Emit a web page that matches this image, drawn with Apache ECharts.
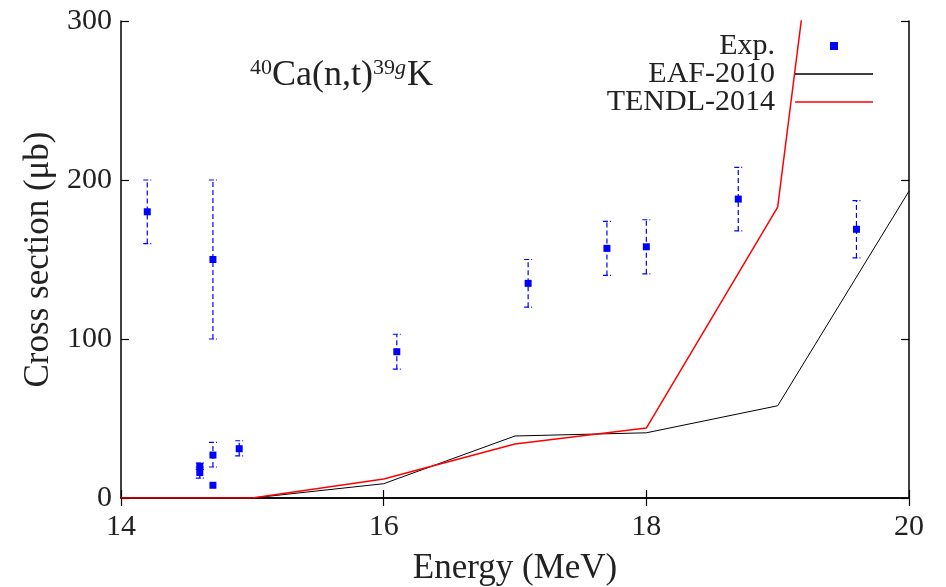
<!DOCTYPE html>
<html>
<head>
<meta charset="utf-8">
<script src="https://cdn.jsdelivr.net/npm/echarts@6/dist/echarts.min.js"></script>
<style>html,body{margin:0;padding:0;background:#fff}#c{width:946px;height:587px}</style>
</head>
<body>
<div id="c"></div>
<script>
// Experimental data (MeV, microbarn)
var expE  = [14.2, 14.6, 14.6, 14.7, 14.7, 14.7, 14.9, 16.1, 17.1, 17.7, 18.0, 18.7, 19.6];
var expY  = [180,  20,   16,   150,  27,   8,    31,   92,   135,  157,  158,  188,  169];
var expLo = [160,  18,   12.5, 100,  19.5, 8,    26.5, 81,   120,  140,  141,  168,  151];
var expHi = [200,  22,   19.5, 200,  35,   8,    36,   103,  150,  174,  175,  208,  187];
// Evaluated data
var eafE   = [14, 15, 16, 17, 18, 19, 20];
var eafY   = [0, 0, 9, 39, 41, 58, 193];
var tendlE = [14, 15, 16, 17, 18, 19, 20];
var tendlY = [0, 0, 12, 34, 44, 183, 835];
var xTicks = [14, 16, 18, 20];
var yTicks = [0, 100, 200, 300];

var FONT = 'Liberation Serif';
function zip(a, b) { return a.map(function (v, i) { return [v, b[i]]; }); }
var errData = expE.map(function (e, i) { return [e, expLo[i], expHi[i]]; });

var chart = echarts.init(document.getElementById('c'));
var axisLine = { show: true, lineStyle: { color: '#000', width: 1.5 } };
var tick = { show: true, inside: true, length: 8, lineStyle: { color: '#000', width: 1.2 } };
var lineIcon = 'path://M0 0h78v1.3h-78z';
chart.setOption({
  animation: false,
  backgroundColor: '#fff',
  grid: { left: 121, right: 37, top: 21, bottom: 89, outerBoundsMode: 'none', containLabel: false },
  xAxis: [{
    type: 'value', min: xTicks[0], max: xTicks[xTicks.length - 1], interval: 2,
    axisLine: axisLine, axisTick: tick, splitLine: { show: false },
    axisLabel: { margin: 14, fontSize: 30, fontFamily: FONT, color: '#222' },
    name: 'Energy (MeV)', nameLocation: 'middle', nameGap: 53,
    nameTextStyle: { fontSize: 35, fontFamily: FONT, color: '#222' }
  }, {
    type: 'value', position: 'top', min: 14, max: 20, interval: 2,
    axisLine: axisLine, axisTick: tick, axisLabel: { show: false }, splitLine: { show: false }
  }],
  yAxis: [{
    type: 'value', min: yTicks[0], max: yTicks[yTicks.length - 1], interval: 100,
    axisLine: axisLine, axisTick: tick, splitLine: { show: false },
    axisLabel: { margin: 9, fontSize: 30, fontFamily: FONT, color: '#222' },
    name: 'Cross section (\u03bcb)', nameLocation: 'middle', nameGap: 64, nameRotate: 90,
    nameTextStyle: { fontSize: 35, fontFamily: FONT, color: '#222' }
  }, {
    type: 'value', position: 'right', min: 0, max: 300, interval: 100,
    axisLine: axisLine, axisTick: tick, axisLabel: { show: false }, splitLine: { show: false }
  }],
  legend: {
    orient: 'vertical', align: 'right', right: 68, top: 26,
    itemWidth: 78, itemHeight: 8, itemGap: -2,
    textStyle: { fontSize: 30, lineHeight: 26, fontFamily: FONT, color: '#222', padding: [0, 15, 0, 0] },
    data: [
      { name: 'Exp.', icon: 'path://M0 0h10v10h-10z' },
      { name: 'EAF-2010', icon: lineIcon },
      { name: 'TENDL-2014', icon: lineIcon }
    ]
  },
  graphic: [{
    type: 'text', left: 250, top: 57,
    style: {
      text: '{s|40}Ca(n,t){s|39}{si|g}K',
      font: '36px ' + FONT, fill: '#222',
      rich: {
        s: { fontSize: 22, fontFamily: FONT, verticalAlign: 'top', lineHeight: 38, padding: [0, 0, 15, 0] },
        si: { fontSize: 22, fontFamily: FONT, fontStyle: 'italic', verticalAlign: 'top', lineHeight: 38, padding: [0, 1, 15, 0] }
      }
    }
  }],
  series: [{
    name: 'EAF-2010', type: 'line', data: zip(eafE, eafY), showSymbol: false, symbol: 'none',
    lineStyle: { color: '#000', width: 1 }, itemStyle: { color: '#000' }, z: 2
  }, {
    name: 'TENDL-2014', type: 'line', data: zip(tendlE, tendlY), showSymbol: false, symbol: 'none',
    lineStyle: { color: '#ff0000', width: 1.5 }, itemStyle: { color: '#ff0000' }, z: 3
  }, {
    name: 'Exp.err', type: 'custom', data: errData, z: 4,
    renderItem: function (params, api) {
      var x = api.value(0), lo = api.value(1), hi = api.value(2);
      if (hi - lo < 0.01) return;
      var p1 = api.coord([x, lo]), p2 = api.coord([x, hi]);
      var st = { stroke: '#0000ff', lineWidth: 1.2, lineDash: [5, 3] };
      var cw = 4;
      return { type: 'group', children: [
        { type: 'line', shape: { x1: p1[0], y1: p1[1], x2: p2[0], y2: p2[1] }, style: st },
        { type: 'line', shape: { x1: p1[0] - cw, y1: p1[1], x2: p1[0] + cw, y2: p1[1] }, style: { stroke: '#0000ff', lineWidth: 1.2, lineDash: [5, 2] } },
        { type: 'line', shape: { x1: p2[0] - cw, y1: p2[1], x2: p2[0] + cw, y2: p2[1] }, style: { stroke: '#0000ff', lineWidth: 1.2, lineDash: [5, 2] } }
      ] };
    }
  }, {
    name: 'Exp.', type: 'scatter', data: zip(expE, expY), symbol: 'rect', symbolSize: 7,
    itemStyle: { color: '#0000ff', opacity: 1 }, z: 5
  }]
});
</script>
</body>
</html>
